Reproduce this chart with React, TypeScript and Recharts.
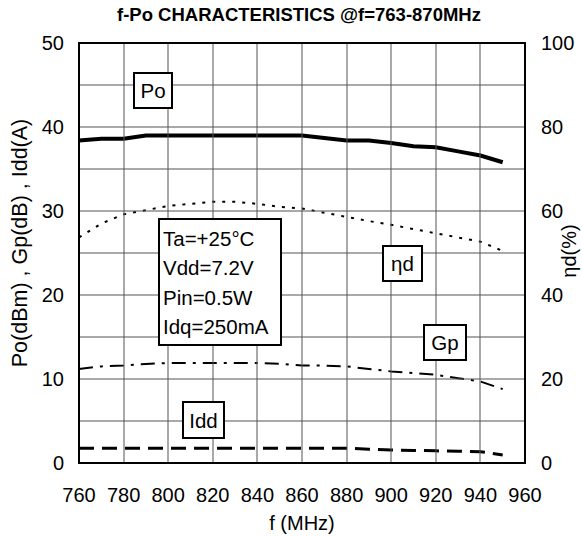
import React from 'react';
import { LineChart, Line, XAxis, YAxis } from 'recharts';

const FONT = '"Liberation Sans", Arial, sans-serif';

// frequency points (MHz)
const freq = [760, 770, 780, 790, 800, 810, 820, 830, 840, 850, 860, 870, 880, 890, 900, 910, 920, 930, 940, 950];
// Po (dBm)
const po = [38.4, 38.6, 38.6, 39.0, 39.0, 39.0, 39.0, 39.0, 39.0, 39.0, 39.0, 38.7, 38.4, 38.4, 38.1, 37.7, 37.6, 37.1, 36.6, 35.8];
// drain efficiency (%), right axis
const eta = [53.7, 57.0, 59.2, 60.2, 61.2, 61.7, 62.2, 62.2, 61.7, 61.0, 60.6, 59.6, 58.6, 57.6, 56.7, 55.7, 54.7, 53.7, 52.7, 50.5];
// Gp (dB)
const gp = [11.2, 11.5, 11.6, 11.8, 11.9, 11.9, 11.9, 11.9, 11.9, 11.8, 11.6, 11.6, 11.5, 11.2, 10.9, 10.7, 10.5, 10.1, 9.7, 8.8];
// Idd (A)
const idd = [1.75, 1.75, 1.75, 1.75, 1.75, 1.75, 1.75, 1.75, 1.75, 1.75, 1.75, 1.75, 1.75, 1.65, 1.55, 1.5, 1.45, 1.4, 1.35, 0.95];

const xTicks = [760, 780, 800, 820, 840, 860, 880, 900, 920, 940, 960];
const leftTicks = [0, 10, 20, 30, 40, 50];
const leftGrid = [5, 10, 15, 20, 25, 30, 35, 40, 45];
const rightTicks = [0, 20, 40, 60, 80, 100];

const data = freq.map((f, i) => ({ f, po: po[i], eta: eta[i], gp: gp[i], idd: idd[i] }));

// layout
const W = 582;
const H = 536;
const M_TOP = 43;
const LEFT_W = 79;
const RIGHT_W = 57;
const X_H = 73;
const PL = LEFT_W;
const PR = W - RIGHT_W;
const PT = M_TOP;
const PB = H - X_H;
const X0 = xTicks[0];
const X1 = xTicks[xTicks.length - 1];
const Y1 = leftTicks[leftTicks.length - 1];
const gx = (v: number) => PL + ((v - X0) / (X1 - X0)) * (PR - PL);
const gy = (v: number) => PB - (v / Y1) * (PB - PT);

const tickStyle = { fontSize: 20, fill: '#000', fontFamily: FONT };

// annotation boxes: [label, left, top, width, height]
const boxes: [string, number, number, number, number][] = [
  ['Po', 133, 72, 40, 37],
  ['ηd', 382, 245, 41, 37],
  ['Gp', 423, 324, 44, 37],
  ['Idd', 182, 401, 43, 38],
];
const conditions = ['Ta=+25°C', 'Vdd=7.2V', 'Pin=0.5W', 'Idq=250mA'];

export default function App() {
  return (
    <div style={{ position: 'absolute', left: 0, top: 0, width: W, height: H, background: '#fff' }}>
      <LineChart width={W} height={H} data={data} margin={{ top: M_TOP, right: 0, left: 0, bottom: 0 }}>
        <XAxis
          dataKey="f"
          type="number"
          domain={[X0, X1]}
          ticks={xTicks}
          interval={0}
          height={X_H}
          axisLine={false}
          tickLine={false}
          tickSize={0}
          tickMargin={25}
          tick={tickStyle}
        />
        <YAxis
          domain={[0, Y1]}
          ticks={leftTicks}
          interval={0}
          width={LEFT_W}
          axisLine={false}
          tickLine={false}
          tickSize={0}
          tickMargin={15}
          tick={tickStyle}
        />
        <YAxis
          yAxisId="right"
          orientation="right"
          domain={[0, 100]}
          ticks={rightTicks}
          interval={0}
          width={RIGHT_W}
          axisLine={false}
          tickLine={false}
          tickSize={0}
          tickMargin={16}
          tick={{ ...tickStyle, textAnchor: 'start' }}
        />
        <Line dataKey="po" stroke="#000" strokeWidth={4} dot={false} isAnimationActive={false} />
        <Line yAxisId="right" dataKey="eta" stroke="#000" strokeWidth={2} strokeDasharray="3 7" dot={false} isAnimationActive={false} />
        <Line dataKey="gp" stroke="#000" strokeWidth={2} strokeDasharray="14 7 3 7" dot={false} isAnimationActive={false} />
        <Line dataKey="idd" stroke="#000" strokeWidth={3} strokeDasharray="15 8" dot={false} isAnimationActive={false} />
      </LineChart>

      <svg width={W} height={H} style={{ position: 'absolute', left: 0, top: 0, pointerEvents: 'none' }} fontFamily={FONT}>
        {/* grid as thin filled rects, frame as stroked rect */}
        {xTicks.slice(1, -1).map((v) => (
          <rect key={`v${v}`} x={Math.round(gx(v)) - 0.5} y={PT} width={1} height={PB - PT} fill="#555" />
        ))}
        {leftGrid.map((v) => (
          <rect key={`h${v}`} x={PL} y={Math.round(gy(v)) - 0.5} width={PR - PL} height={1} fill="#555" />
        ))}
        <rect x={PL} y={PT} width={PR - PL} height={PB - PT} fill="none" stroke="#000" strokeWidth={2} />

        <text x={299} y={14} textAnchor="middle" dominantBaseline="central" fontSize={18.5} fontWeight="bold" fill="#000">
          f-Po CHARACTERISTICS @f=763-870MHz
        </text>
        <text x={(PL + PR) / 2} y={530} textAnchor="middle" fontSize={20} fill="#000">
          f (MHz)
        </text>
        <text x={20} y={243} transform="rotate(-90 20 243)" textAnchor="middle" dominantBaseline="central" fontSize={21.5} fill="#000">
          Po(dBm) , Gp(dB) , Idd(A)
        </text>
        <text x={569} y={251} transform="rotate(-90 569 251)" textAnchor="middle" dominantBaseline="central" fontSize={20} fill="#000">
          ηd(%)
        </text>

        {boxes.map(([label, l, t, w, h]) => (
          <g key={label}>
            <rect x={l + 1} y={t + 1} width={w - 2} height={h - 2} fill="#fff" stroke="#000" strokeWidth={2} />
            <text x={l + w / 2} y={t + h / 2} textAnchor="middle" dominantBaseline="central" fontSize={20.5} fill="#000">
              {label}
            </text>
          </g>
        ))}

        <rect x={159} y={219} width={122} height={126} fill="#fff" stroke="#000" strokeWidth={2} />
        {conditions.map((s, i) => (
          <text key={s} x={163} y={238 + i * 29.5} dominantBaseline="central" fontSize={20.5} fill="#000">
            {s}
          </text>
        ))}
      </svg>
    </div>
  );
}
